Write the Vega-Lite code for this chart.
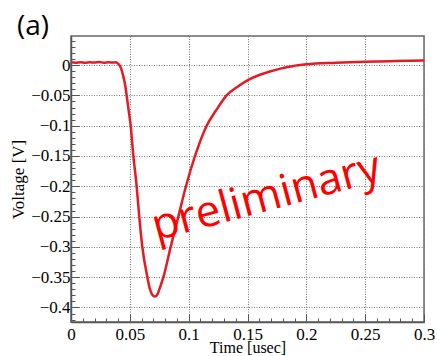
{
  "$schema": "https://vega.github.io/schema/vega-lite/v6.json",
  "width": 353,
  "height": 286,
  "autosize": {"type": "none"},
  "padding": {"left": 71, "top": 36, "right": 13, "bottom": 34},
  "background": "white",
  "title": {"text": "(a)", "anchor": "start", "frame": "group", "font": "Open Sans", "fontSize": 28, "fontWeight": "normal", "color": "black", "dx": -54, "dy": 34, "offset": 3, "baseline": "alphabetic"},
  "config": {
    "view": {"stroke": "#666", "strokeWidth": 1.5},
    "axis": {
      "labelFont": "Liberation Serif", "labelFontSize": 17, "labelColor": "black",
      "titleFont": "Liberation Serif", "titleFontSize": 17, "titleFontWeight": "normal", "titleColor": "black",
      "domainColor": "#555", "domainWidth": 1.5,
      "tickColor": "#555", "tickWidth": 1,
      "gridColor": "#777", "gridDash": [1, 1.5], "gridWidth": 1
    }
  },
  "data": {"values": [
    {"t": 0.000, "v": 0.0045},
    {"t": 0.004, "v": 0.0040},
    {"t": 0.008, "v": 0.0048},
    {"t": 0.012, "v": 0.0038},
    {"t": 0.016, "v": 0.0046},
    {"t": 0.020, "v": 0.0041},
    {"t": 0.024, "v": 0.0049},
    {"t": 0.028, "v": 0.0040},
    {"t": 0.032, "v": 0.0047},
    {"t": 0.036, "v": 0.0042},
    {"t": 0.038, "v": 0.0046},
    {"t": 0.040, "v": 0.0025},
    {"t": 0.0425, "v": -0.005},
    {"t": 0.0445, "v": -0.019},
    {"t": 0.0462, "v": -0.035},
    {"t": 0.0473, "v": -0.05},
    {"t": 0.049, "v": -0.075},
    {"t": 0.0507, "v": -0.1},
    {"t": 0.053, "v": -0.15},
    {"t": 0.0558, "v": -0.2},
    {"t": 0.058, "v": -0.25},
    {"t": 0.0606, "v": -0.3},
    {"t": 0.0649, "v": -0.35},
    {"t": 0.067, "v": -0.369},
    {"t": 0.069, "v": -0.379},
    {"t": 0.0714, "v": -0.382},
    {"t": 0.074, "v": -0.376},
    {"t": 0.076, "v": -0.365},
    {"t": 0.0785, "v": -0.35},
    {"t": 0.0847, "v": -0.3},
    {"t": 0.0912, "v": -0.25},
    {"t": 0.0977, "v": -0.2},
    {"t": 0.1054, "v": -0.15},
    {"t": 0.1153, "v": -0.1},
    {"t": 0.1232, "v": -0.075},
    {"t": 0.1323, "v": -0.05},
    {"t": 0.1418, "v": -0.0355},
    {"t": 0.1507, "v": -0.0245},
    {"t": 0.1606, "v": -0.016},
    {"t": 0.169, "v": -0.0105},
    {"t": 0.178, "v": -0.0058},
    {"t": 0.188, "v": -0.0018},
    {"t": 0.200, "v": 0.0012},
    {"t": 0.225, "v": 0.0038},
    {"t": 0.250, "v": 0.0055},
    {"t": 0.275, "v": 0.0066},
    {"t": 0.300, "v": 0.0077}
  ]},
  "layer": [
    {
      "mark": {"type": "line", "color": "#e41b22", "strokeWidth": 2.5, "interpolate": "monotone", "clip": true},
      "encoding": {
        "x": {"field": "t", "type": "quantitative",
          "scale": {"domain": [0, 0.3], "nice": false, "zero": false},
          "axis": {
            "title": "Time [usec]", "titlePadding": -7, "titleFontSize": 16, "tickCount": 200,
            "values": [0,0.01,0.02,0.03,0.04,0.05,0.06,0.07,0.08,0.09,0.1,0.11,0.12,0.13,0.14,0.15,0.16,0.17,0.18,0.19,0.2,0.21,0.22,0.23,0.24,0.25,0.26,0.27,0.28,0.29,0.3],
            "labelExpr": "abs(datum.value*20 - round(datum.value*20)) < 0.001 ? format(datum.value, '~g') : ''",
            "labelPadding": 12, "labelFlush": false, "labelOverlap": false,
            "tickSize": {"condition": {"test": "abs(datum.value*20 - round(datum.value*20)) < 0.001", "value": -8}, "value": -4},
            "gridOpacity": {"condition": {"test": "abs(datum.value*20 - round(datum.value*20)) < 0.001", "value": 1}, "value": 0}
          }
        },
        "y": {"field": "v", "type": "quantitative",
          "scale": {"domain": [-0.424, 0.048], "nice": false, "zero": false},
          "axis": {
            "title": "Voltage [V]", "titlePadding": 3, "tickCount": 200,
            "values": [0.04,0.03,0.02,0.01,0,-0.01,-0.02,-0.03,-0.04,-0.05,-0.06,-0.07,-0.08,-0.09,-0.1,-0.11,-0.12,-0.13,-0.14,-0.15,-0.16,-0.17,-0.18,-0.19,-0.2,-0.21,-0.22,-0.23,-0.24,-0.25,-0.26,-0.27,-0.28,-0.29,-0.3,-0.31,-0.32,-0.33,-0.34,-0.35,-0.36,-0.37,-0.38,-0.39,-0.4,-0.41,-0.42],
            "labelExpr": "abs(datum.value*20 - round(datum.value*20)) < 0.001 ? format(datum.value, '~g') : ''",
            "labelPadding": 9, "labelFlush": false, "labelOverlap": false, "labelBaseline": "middle",
            "tickSize": {"condition": {"test": "abs(datum.value*20 - round(datum.value*20)) < 0.001", "value": -8}, "value": -4},
            "gridOpacity": {"condition": {"test": "abs(datum.value*20 - round(datum.value*20)) < 0.001", "value": 1}, "value": 0}
          }
        }
      }
    },
    {
      "data": {"values": [{"t": 0.166, "v": -0.219, "label": "preliminary"}]},
      "mark": {"type": "text", "font": "Open Sans", "fontSize": 44, "color": "#ff0000", "angle": -15, "align": "center", "baseline": "middle"},
      "encoding": {
        "x": {"field": "t", "type": "quantitative"},
        "y": {"field": "v", "type": "quantitative"},
        "text": {"field": "label"}
      }
    }
  ]
}
